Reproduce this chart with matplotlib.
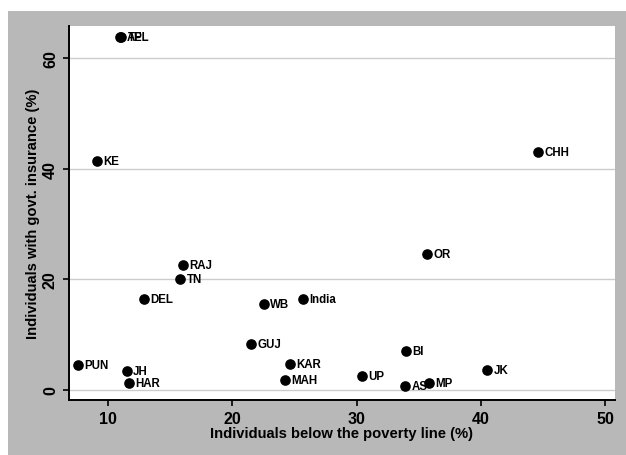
import matplotlib
matplotlib.use("Agg")
import matplotlib.pyplot as plt
from matplotlib.patches import Rectangle

plt.rcParams['font.family'] = ['Liberation Sans', 'DejaVu Sans']

states = ["AP", "TEL", "KE", "CHH", "RAJ", "TN", "DEL", "WB", "India", "GUJ",
          "PUN", "JH", "HAR", "KAR", "MAH", "OR", "BI", "UP", "AS", "MP", "JK"]
poverty = [10.95, 11.05, 9.1, 44.6, 16.0, 15.8, 12.9, 22.5, 25.7, 21.5,
           7.6, 11.5, 11.7, 24.6, 24.2, 35.7, 34.0, 30.4, 33.9, 35.8, 40.5]
insurance = [63.9, 63.8, 41.4, 43.1, 22.6, 20.0, 16.4, 15.6, 16.4, 8.3,
             4.5, 3.3, 1.3, 4.7, 1.8, 24.6, 7.0, 2.5, 0.6, 1.3, 3.6]

xticks = [10, 20, 30, 40, 50]
yticks = [0, 20, 40, 60]

W, H = 626, 456
fig = plt.figure(figsize=(W / 100, H / 100), dpi=100)
fig.patch.set_facecolor("white")
fig.patches.append(Rectangle((8 / W, 0), 1 - 8 / W, 1 - 12 / H,
                             transform=fig.transFigure, facecolor="#b8b8b8",
                             edgecolor="none", zorder=-10))

ax = fig.add_axes([69 / W, 1 - 401 / H, (615 - 69) / W, (401 - 26.7) / H])
ax.set_zorder(1)
ax.set_facecolor("white")
ax.set_xlim(6.84, 50.8)
ax.set_ylim(-1.86, 65.9)

ax.scatter(poverty, insurance, s=44, color="black", zorder=3)
for name, x, y in zip(states, poverty, insurance):
    ax.annotate(name, (x, y), xytext=(4.5, 0), textcoords="offset points",
                va="center", ha="left", fontsize=8.3, fontweight="bold",
                color="black", zorder=4)

ax.set_xticks(xticks)
ax.set_yticks(yticks)
ax.grid(axis="y", color="#cccccc", linewidth=1.0, zorder=1)
ax.set_axisbelow(True)
for s in ["top", "right"]:
    ax.spines[s].set_visible(False)
for s in ["left", "bottom"]:
    ax.spines[s].set_linewidth(1.4)
    ax.spines[s].set_color("black")
ax.tick_params(axis="both", direction="out", length=4, width=1.2, pad=4,
               labelsize=11.5)
for lab in ax.get_xticklabels() + ax.get_yticklabels():
    lab.set_fontweight("bold")
for lab in ax.get_yticklabels():
    lab.set_rotation(90)
    lab.set_va("center")

ax.set_xlabel("Individuals below the poverty line (%)", fontsize=10.6,
              fontweight="bold", labelpad=0)
ax.set_ylabel("Individuals with govt. insurance (%)", fontsize=10.6,
              fontweight="bold", labelpad=2)

fig.savefig("out.png", dpi=100)
